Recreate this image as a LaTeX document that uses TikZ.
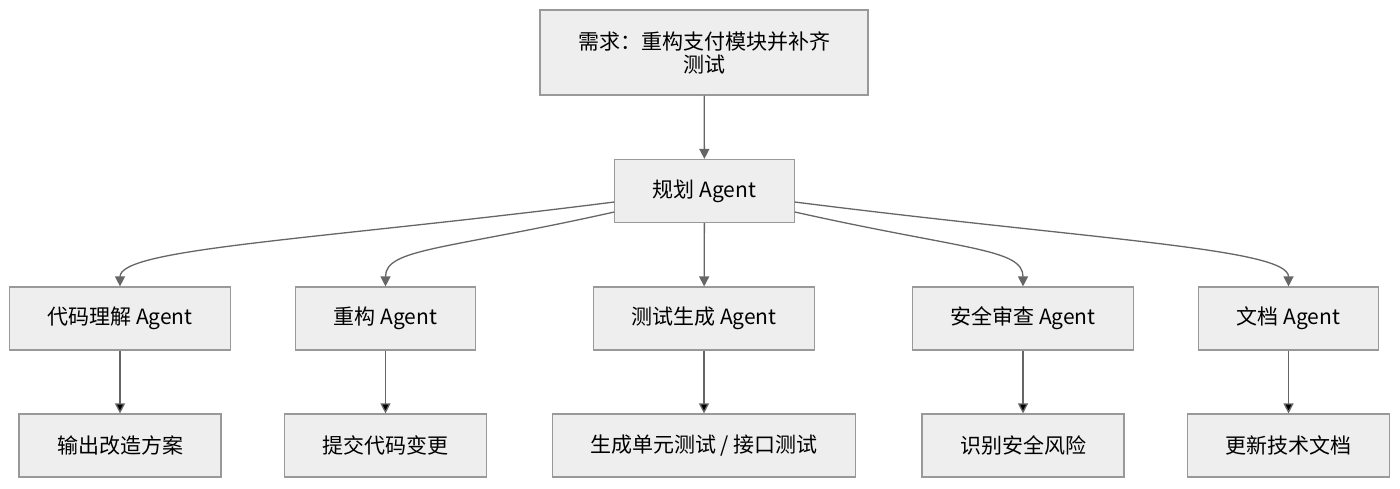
\documentclass[tikz,border=0pt]{standalone}
\usepackage{fontspec}
\newfontfamily\cjk{Noto Sans CJK SC}
\usepackage{tikz}
\usetikzlibrary{arrows.meta,positioning}

\definecolor{boxfill}{HTML}{EEEEEE}
\definecolor{boxline}{HTML}{999999}
\definecolor{arrowline}{HTML}{666666}

\begin{document}
\begin{tikzpicture}[x=0.5pt,y=-0.5pt,node distance=63.5pt,
    >={Triangle[length=5pt,width=5pt]}]

    \tikzstyle{box}=[draw=boxline,fill=boxfill,line width=0.6pt,
      font=\cjk\fontsize{10.5pt}{11.5pt}\selectfont,align=center,
      minimum height=31.5pt,inner xsep=19pt]
    \tikzstyle{link}=[draw=arrowline,line width=0.65pt,->]

    \useasboundingbox (0,0) rectangle (1400,488);

    \node[box,minimum width=162pt,minimum height=42.5pt] (req) at (704,52.5)
      {需求：重构支付模块并补齐\\测试};
    \node[box,minimum width=89.5pt] (plan) at (704.5,191) {规划 Agent};

    \node[box] (code)  at (120,318.5)   {代码理解 Agent};
    \node[box] (refac) at (385.5,318.5) {重构 Agent};
    \node[box] (test)  at (704,318.5)   {测试生成 Agent};
    \node[box] (sec)   at (1023,318.5)  {安全审查 Agent};
    \node[box] (doc)   at (1288.5,318.5){文档 Agent};

    \node[box] (plan_out)  [below of=code]  {输出改造方案};
    \node[box] (commit)    [below of=refac] {提交代码变更};
    \node[box] (gen_test)  [below of=test]  {生成单元测试 / 接口测试};
    \node[box] (risk)      [below of=sec]   {识别安全风险};
    \node[box] (upd_doc)   [below of=doc]   {更新技术文档};

    \draw[link] (req) -- (plan);
    \draw[link] (plan) -- (test);

    \draw[link] ([yshift=-5.5pt]plan.west) .. controls +(-300,38) and +(0,-38) .. (code.north);
    \draw[link] ([yshift=-10.5pt]plan.west) .. controls +(-170,38) and +(0,-38) .. (refac.north);
    \draw[link] ([yshift=-10.5pt]plan.east) .. controls +(170,38) and +(0,-38) .. (sec.north);
    \draw[link] ([yshift=-5.5pt]plan.east) .. controls +(300,38) and +(0,-38) .. (doc.north);

    \path[link]
    (code)  edge (plan_out)
    (refac) edge (commit)
    (test)  edge (gen_test)
    (sec)   edge (risk)
    (doc)   edge (upd_doc);
\end{tikzpicture}
\end{document}
